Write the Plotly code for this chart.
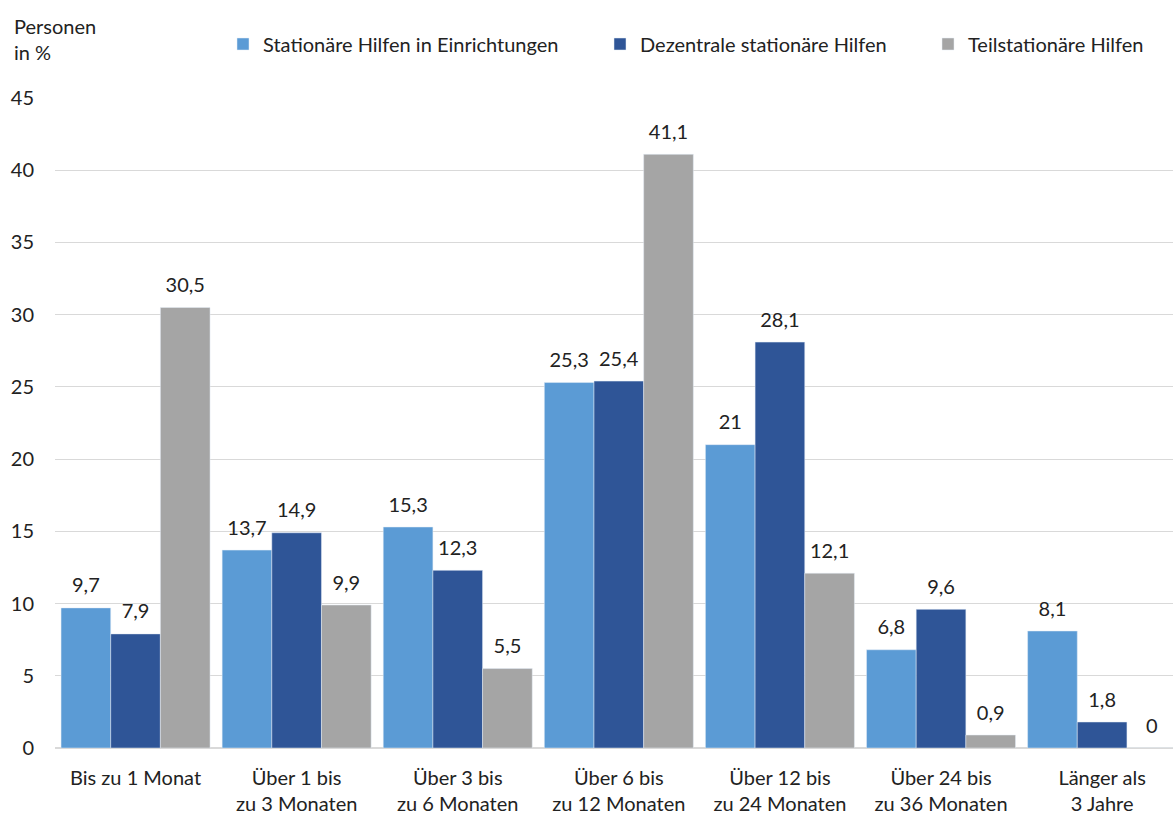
import plotly.graph_objects as go

categories = ["Bis zu 1 Monat", "Über 1 bis<br>zu 3 Monaten", "Über 3 bis<br>zu 6 Monaten",
              "Über 6 bis<br>zu 12 Monaten", "Über 12 bis<br>zu 24 Monaten",
              "Über 24 bis<br>zu 36 Monaten", "Länger als<br>3 Jahre"]
stationaer = [9.7, 13.7, 15.3, 25.3, 21, 6.8, 8.1]
dezentral = [7.9, 14.9, 12.3, 25.4, 28.1, 9.6, 1.8]
teilstationaer = [30.5, 9.9, 5.5, 41.1, 12.1, 0.9, 0]
y_ticks = [0, 5, 10, 15, 20, 25, 30, 35, 40, 45]

names = ["Stationäre Hilfen in Einrichtungen", "Dezentrale stationäre Hilfen", "Teilstationäre Hilfen"]
colors = ["#5B9BD5", "#2F5597", "#A5A5A5"]
series = [stationaer, dezentral, teilstationaer]

FONT = "Lato"
FS = 20
TXT = "#222"
W, H = 1173, 814
ML, MR, MT, MB = 55, 0, 98, 66
pw = W - ML - MR
ph = H - MT - MB

def fmt(v):
    # large label on the first line, a small blank line below it as spacing
    return "<span style='font-size:%dpx'>%s</span><br>\u00a0" % (FS, str(v).replace(".", ","))

fig = go.Figure()
legend_ids = ["legend", "legend2", "legend3"]
for name, col, vals, lid in zip(names, colors, series, legend_ids):
    fig.add_trace(go.Bar(
        x=categories, y=vals, name=name, marker_color=col,
        text=[fmt(v) for v in vals], textposition="outside",
        textfont=dict(family=FONT, size=8, color=TXT),
        cliponaxis=False, legend=lid, showlegend=True,
    ))

leg_px = [223, 600, 928]
leg_common = dict(orientation="h", yanchor="middle", y=(H - MB - 44) / ph,
                  xanchor="left", font=dict(family=FONT, size=FS, color=TXT),
                  bgcolor="rgba(0,0,0,0)")
fig.update_layout(
    width=W, height=H,
    showlegend=True,
    margin=dict(l=ML, r=MR, t=MT, b=MB, autoexpand=False),
    plot_bgcolor="white", paper_bgcolor="white",
    barmode="group", bargap=0.075, bargroupgap=0,
    font=dict(family=FONT, size=FS, color=TXT),
    uniformtext=dict(mode=False),
    legend=dict(x=(leg_px[0] - ML) / pw, **leg_common),
    legend2=dict(x=(leg_px[1] - ML) / pw, **leg_common),
    legend3=dict(x=(leg_px[2] - ML) / pw, **leg_common),
    xaxis=dict(range=[-0.5, 6.44], showgrid=False, showline=False, ticks="",
               ticklabelstandoff=16,
               tickfont=dict(family=FONT, size=FS, color=TXT)),
    yaxis=dict(range=[0, 45], tickvals=y_ticks, showgrid=True, gridcolor="#D9D9D9",
               gridwidth=1, zeroline=True, zerolinecolor="#D9D9D9", showline=False,
               ticks="", ticklabelstandoff=20,
               tickfont=dict(family=FONT, size=FS, color=TXT)),
    annotations=[dict(text="Personen<br>in %", xref="paper", yref="paper",
                      x=-(ML - 12) / pw, y=(H - MB - 12) / ph, xanchor="left", yanchor="top",
                      align="left", showarrow=False,
                      font=dict(family=FONT, size=FS, color=TXT))],
)
fig.write_html("out.html", config={"displayModeBar": False},
               post_script="document.body.style.margin='0';document.body.style.overflow='hidden';")
